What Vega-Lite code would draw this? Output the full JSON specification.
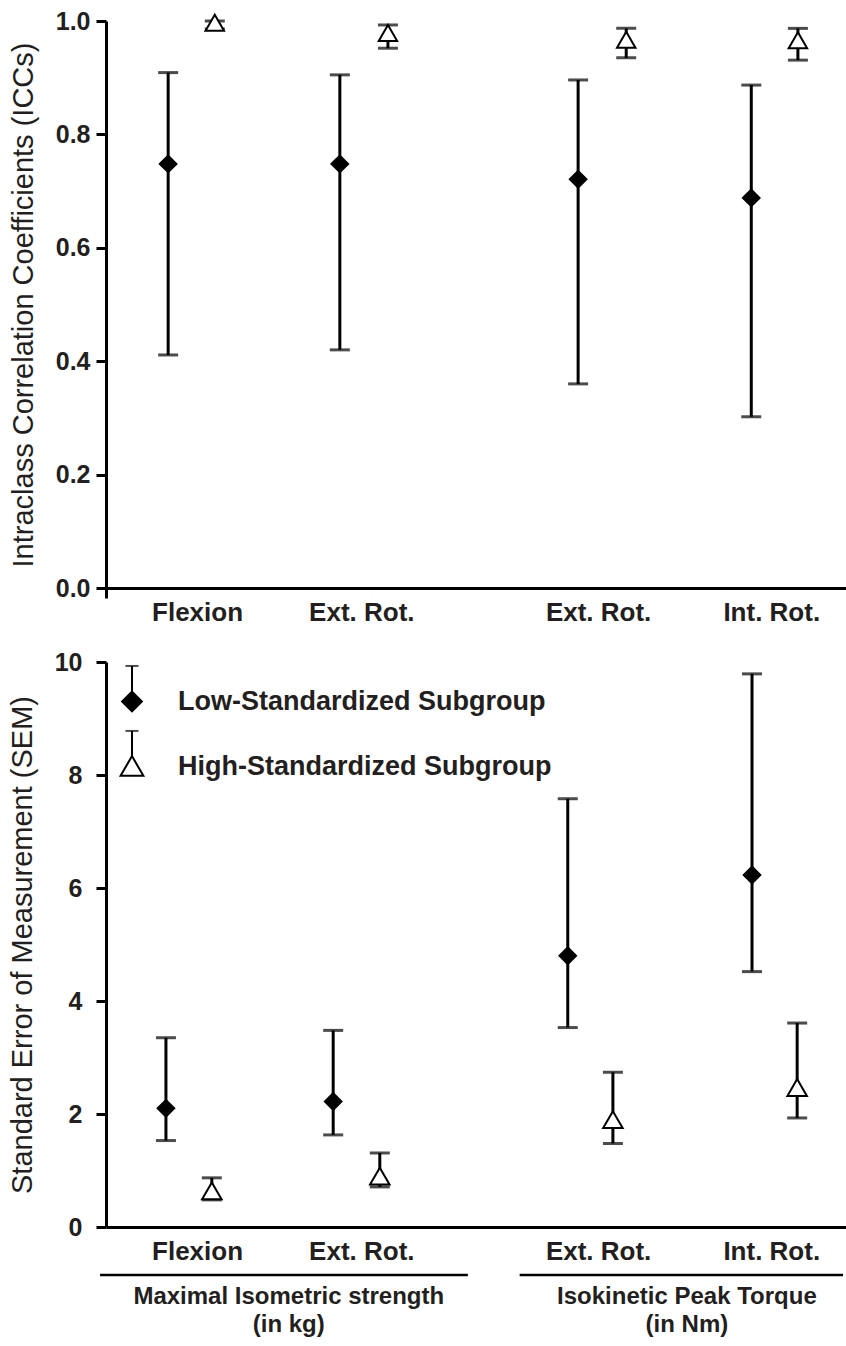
{
  "$schema": "https://vega.github.io/schema/vega-lite/v6.json",
  "padding": {"left": 8, "top": 9, "right": 0, "bottom": 0},
  "spacing": 25,
  "config": {
    "font": "Liberation Sans",
    "view": {"stroke": null},
    "axis": {
      "grid": false,
      "domainColor": "black",
      "domainWidth": 3,
      "tickColor": "black",
      "tickWidth": 3,
      "tickSize": 10,
      "labelFont": "Liberation Sans",
      "labelFontWeight": "bold",
      "labelFontSize": 25,
      "labelColor": "#231f20",
      "titleFont": "Liberation Sans",
      "titleFontWeight": "normal",
      "titleFontSize": 29,
      "titleColor": "#231f20"
    }
  },
  "datasets": {
    "icc": [
      {"measure": "Flexion", "sub": "Low", "slot": 0.84, "value": 0.748, "lo": 0.411, "hi": 0.909},
      {"measure": "Flexion", "sub": "High", "slot": 1.47, "value": 0.997, "lo": 0.986, "hi": 1.0},
      {"measure": "Ext. Rot. (isometric)", "sub": "Low", "slot": 3.16, "value": 0.748, "lo": 0.42, "hi": 0.905},
      {"measure": "Ext. Rot. (isometric)", "sub": "High", "slot": 3.81, "value": 0.979, "lo": 0.952, "hi": 0.993},
      {"measure": "Ext. Rot. (isokinetic)", "sub": "Low", "slot": 6.38, "value": 0.721, "lo": 0.36, "hi": 0.896},
      {"measure": "Ext. Rot. (isokinetic)", "sub": "High", "slot": 7.03, "value": 0.967, "lo": 0.935, "hi": 0.987},
      {"measure": "Int. Rot.", "sub": "Low", "slot": 8.72, "value": 0.688, "lo": 0.302, "hi": 0.887},
      {"measure": "Int. Rot.", "sub": "High", "slot": 9.35, "value": 0.966, "lo": 0.931, "hi": 0.987}
    ],
    "sem": [
      {"measure": "Flexion", "sub": "Low", "slot": 0.81, "value": 2.1, "lo": 1.53, "hi": 3.35},
      {"measure": "Flexion", "sub": "High", "slot": 1.43, "value": 0.64, "lo": 0.48, "hi": 0.87},
      {"measure": "Ext. Rot. (isometric)", "sub": "Low", "slot": 3.07, "value": 2.22, "lo": 1.63, "hi": 3.48},
      {"measure": "Ext. Rot. (isometric)", "sub": "High", "slot": 3.7, "value": 0.9, "lo": 0.71, "hi": 1.31},
      {"measure": "Ext. Rot. (isokinetic)", "sub": "Low", "slot": 6.24, "value": 4.8, "lo": 3.53, "hi": 7.58},
      {"measure": "Ext. Rot. (isokinetic)", "sub": "High", "slot": 6.85, "value": 1.9, "lo": 1.48, "hi": 2.74},
      {"measure": "Int. Rot.", "sub": "Low", "slot": 8.73, "value": 6.23, "lo": 4.52, "hi": 9.79},
      {"measure": "Int. Rot.", "sub": "High", "slot": 9.34, "value": 2.47, "lo": 1.93, "hi": 3.61}
    ],
    "groups": [
      {"label": "Maximal Isometric strength\n(in kg)", "start": -0.08, "end": 4.89, "mid": 2.47},
      {"label": "Isokinetic Peak Torque\n(in Nm)", "start": 5.59, "end": 9.96, "mid": 7.85}
    ],
    "legend": [
      {"sub": "Low", "label": "Low-Standardized Subgroup"},
      {"sub": "High", "label": "High-Standardized Subgroup"}
    ]
  },
  "vconcat": [
    {
      "width": 740,
      "height": 567,
      "data": {"name": "icc"},
      "layer": [
        {
          "mark": {"type": "rule", "strokeWidth": 3, "color": "black"},
          "encoding": {
            "x": {
              "field": "slot", "type": "quantitative",
              "scale": {"domain": [0, 10], "nice": false, "zero": false},
              "axis": {
                "title": null,
                "values": [0, 1.23, 3.45, 6.65, 8.99],
                "labelExpr": "datum.value == 0 ? '' : datum.value < 2 ? 'Flexion' : datum.value < 8 ? 'Ext. Rot.' : 'Int. Rot.'",
                "labelOverlap": false,
                "labelFlush": false,
                "labelPadding": 1,
                "labelFontSize": 26,
                "tickOpacity": {"condition": {"test": "datum.value == 0", "value": 1}, "value": 0}
              }
            },
            "y": {
              "field": "lo", "type": "quantitative",
              "scale": {"domain": [0, 1], "nice": false},
              "axis": {
                "title": "Intraclass Correlation Coefficients (ICCs)",
                "values": [0, 0.2, 0.4, 0.6, 0.8, 1.0],
                "format": ".1f",
                "labelPadding": 6,
                "titlePadding": 17
              }
            },
            "y2": {"field": "hi"}
          }
        },
        {
          "mark": {"type": "tick", "orient": "horizontal", "size": 20, "thickness": 3, "color": "black"},
          "encoding": {
            "x": {"field": "slot", "type": "quantitative"},
            "y": {"field": "lo", "type": "quantitative"}
          }
        },
        {
          "mark": {"type": "tick", "orient": "horizontal", "size": 20, "thickness": 3, "color": "black"},
          "encoding": {
            "x": {"field": "slot", "type": "quantitative"},
            "y": {"field": "hi", "type": "quantitative"}
          }
        },
        {
          "transform": [{"filter": "datum.sub == 'Low'"}],
          "mark": {"type": "point", "shape": "diamond", "size": 300, "filled": true, "fill": "black", "stroke": "black", "strokeWidth": 1.5, "opacity": 1},
          "encoding": {
            "x": {"field": "slot", "type": "quantitative"},
            "y": {"field": "value", "type": "quantitative"}
          }
        },
        {
          "transform": [{"filter": "datum.sub == 'High'"}],
          "mark": {"type": "point", "shape": "triangle-up", "size": 340, "filled": true, "fill": "white", "stroke": "black", "strokeWidth": 2, "opacity": 1},
          "encoding": {
            "x": {"field": "slot", "type": "quantitative"},
            "y": {"field": "value", "type": "quantitative"}
          }
        }
      ]
    },
    {
      "width": 740,
      "height": 565,
      "layer": [
        {
          "data": {"name": "sem"},
          "mark": {"type": "rule", "strokeWidth": 3, "color": "black"},
          "encoding": {
            "x": {
              "field": "slot", "type": "quantitative",
              "scale": {"domain": [0, 10], "nice": false, "zero": false},
              "axis": {
                "title": null,
                "values": [0, 1.23, 3.45, 6.65, 8.99],
                "labelExpr": "datum.value == 0 ? '' : datum.value < 2 ? 'Flexion' : datum.value < 8 ? 'Ext. Rot.' : 'Int. Rot.'",
                "labelOverlap": false,
                "labelFlush": false,
                "labelPadding": 1,
                "labelFontSize": 26,
                "tickOpacity": 0
              }
            },
            "y": {
              "field": "lo", "type": "quantitative",
              "scale": {"domain": [0, 10], "nice": false},
              "axis": {
                "title": "Standard Error of Measurement (SEM)",
                "values": [0, 2, 4, 6, 8, 10],
                "format": "d",
                "labelPadding": 14,
                "titlePadding": 17
              }
            },
            "y2": {"field": "hi"}
          }
        },
        {
          "data": {"name": "sem"},
          "mark": {"type": "tick", "orient": "horizontal", "size": 20, "thickness": 3, "color": "black"},
          "encoding": {
            "x": {"field": "slot", "type": "quantitative"},
            "y": {"field": "lo", "type": "quantitative"}
          }
        },
        {
          "data": {"name": "sem"},
          "mark": {"type": "tick", "orient": "horizontal", "size": 20, "thickness": 3, "color": "black"},
          "encoding": {
            "x": {"field": "slot", "type": "quantitative"},
            "y": {"field": "hi", "type": "quantitative"}
          }
        },
        {
          "data": {"name": "sem"},
          "transform": [{"filter": "datum.sub == 'Low'"}],
          "mark": {"type": "point", "shape": "diamond", "size": 300, "filled": true, "fill": "black", "stroke": "black", "strokeWidth": 1.5, "opacity": 1},
          "encoding": {
            "x": {"field": "slot", "type": "quantitative"},
            "y": {"field": "value", "type": "quantitative"}
          }
        },
        {
          "data": {"name": "sem"},
          "transform": [{"filter": "datum.sub == 'High'"}],
          "mark": {"type": "point", "shape": "triangle-up", "size": 380, "filled": true, "fill": "white", "stroke": "black", "strokeWidth": 2, "opacity": 1},
          "encoding": {
            "x": {"field": "slot", "type": "quantitative"},
            "y": {"field": "value", "type": "quantitative"}
          }
        },
        {
          "data": {"name": "groups"},
          "mark": {"type": "rule", "strokeWidth": 2.5, "color": "black"},
          "encoding": {
            "x": {"field": "start", "type": "quantitative"},
            "x2": {"field": "end"},
            "y": {"datum": -0.85, "type": "quantitative"}
          }
        },
        {
          "data": {"name": "groups"},
          "mark": {"type": "text", "align": "center", "baseline": "top", "lineBreak": "\n", "lineHeight": 28, "fontSize": 24, "fontWeight": "bold", "color": "#231f20"},
          "encoding": {
            "x": {"field": "mid", "type": "quantitative"},
            "y": {"datum": -1.02, "type": "quantitative"},
            "text": {"field": "label"}
          }
        },
        {
          "data": {"name": "legend"},
          "transform": [{"filter": "datum.sub == 'Low'"}],
          "mark": {"type": "rule", "strokeWidth": 2, "color": "black"},
          "encoding": {
            "x": {"datum": 0.351, "type": "quantitative"},
            "y": {"datum": 9.3, "type": "quantitative"},
            "y2": {"datum": 9.93}
          }
        },
        {
          "data": {"name": "legend"},
          "transform": [{"filter": "datum.sub == 'Low'"}],
          "mark": {"type": "tick", "orient": "horizontal", "size": 13, "thickness": 2, "color": "black"},
          "encoding": {
            "x": {"datum": 0.351, "type": "quantitative"},
            "y": {"datum": 9.93, "type": "quantitative"}
          }
        },
        {
          "data": {"name": "legend"},
          "transform": [{"filter": "datum.sub == 'Low'"}],
          "mark": {"type": "point", "shape": "diamond", "size": 420, "filled": true, "fill": "black", "stroke": "black", "strokeWidth": 1.5, "opacity": 1},
          "encoding": {
            "x": {"datum": 0.351, "type": "quantitative"},
            "y": {"datum": 9.3, "type": "quantitative"}
          }
        },
        {
          "data": {"name": "legend"},
          "transform": [{"filter": "datum.sub == 'High'"}],
          "mark": {"type": "rule", "strokeWidth": 2, "color": "black"},
          "encoding": {
            "x": {"datum": 0.351, "type": "quantitative"},
            "y": {"datum": 8.16, "type": "quantitative"},
            "y2": {"datum": 8.78}
          }
        },
        {
          "data": {"name": "legend"},
          "transform": [{"filter": "datum.sub == 'High'"}],
          "mark": {"type": "tick", "orient": "horizontal", "size": 13, "thickness": 2, "color": "black"},
          "encoding": {
            "x": {"datum": 0.351, "type": "quantitative"},
            "y": {"datum": 8.78, "type": "quantitative"}
          }
        },
        {
          "data": {"name": "legend"},
          "transform": [{"filter": "datum.sub == 'High'"}],
          "mark": {"type": "point", "shape": "triangle-up", "size": 520, "filled": true, "fill": "white", "stroke": "black", "strokeWidth": 2, "opacity": 1},
          "encoding": {
            "x": {"datum": 0.351, "type": "quantitative"},
            "y": {"datum": 8.16, "type": "quantitative"}
          }
        },
        {
          "data": {"name": "legend"},
          "transform": [{"filter": "datum.sub == 'Low'"}],
          "mark": {"type": "text", "align": "left", "baseline": "middle", "fontSize": 27, "fontWeight": "bold", "color": "#231f20"},
          "encoding": {
            "x": {"datum": 0.973, "type": "quantitative"},
            "y": {"datum": 9.29, "type": "quantitative"},
            "text": {"field": "label"}
          }
        },
        {
          "data": {"name": "legend"},
          "transform": [{"filter": "datum.sub == 'High'"}],
          "mark": {"type": "text", "align": "left", "baseline": "middle", "fontSize": 27, "fontWeight": "bold", "color": "#231f20"},
          "encoding": {
            "x": {"datum": 0.973, "type": "quantitative"},
            "y": {"datum": 8.14, "type": "quantitative"},
            "text": {"field": "label"}
          }
        }
      ]
    }
  ]
}
